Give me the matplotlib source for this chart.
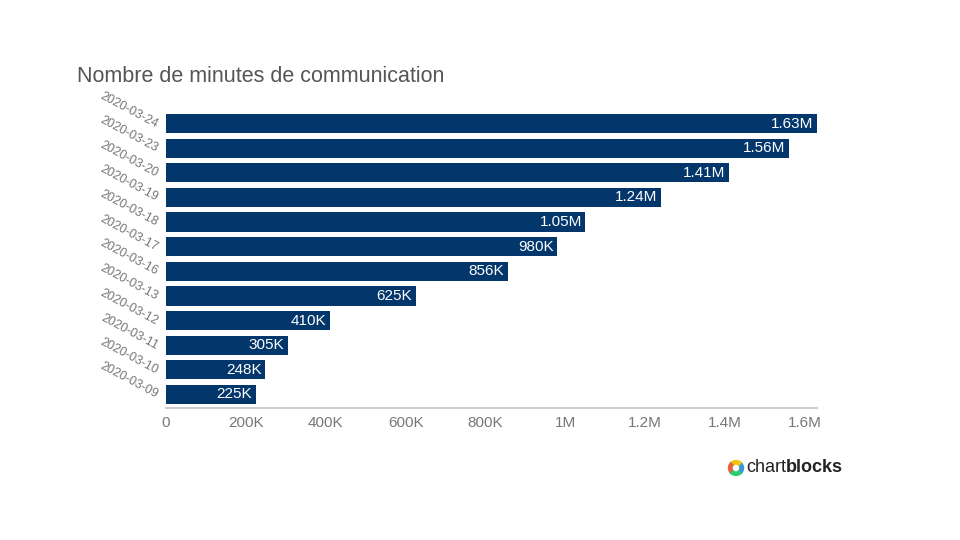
import matplotlib.pyplot as plt
from matplotlib.patches import Wedge

plt.rcParams['font.family'] = ['Liberation Sans', 'DejaVu Sans']

# Données
dates = ["2020-03-24", "2020-03-23", "2020-03-20", "2020-03-19", "2020-03-18", "2020-03-17",
         "2020-03-16", "2020-03-13", "2020-03-12", "2020-03-11", "2020-03-10", "2020-03-09"]
minutes = [1630000, 1560000, 1410000, 1240000, 1050000, 980000,
           856000, 625000, 410000, 305000, 248000, 225000]
etiquettes = ["1.63M", "1.56M", "1.41M", "1.24M", "1.05M", "980K",
              "856K", "625K", "410K", "305K", "248K", "225K"]
ticks = [0, 200000, 400000, 600000, 800000, 1000000, 1200000, 1400000, 1600000]
tick_labels = ["0", "200K", "400K", "600K", "800K", "1M", "1.2M", "1.4M", "1.6M"]

fig = plt.figure(figsize=(9.6, 5.4), dpi=100)
ax = fig.add_axes([166 / 960, 1 - 408 / 540, (817 - 166) / 960, (408 - 110) / 540])

pos = list(range(len(dates)))
ax.barh(pos, minutes, height=0.78, color="#03366b")
ax.set_ylim(len(dates) - 0.5 + 0.05, -0.5 - 0.05)
ax.set_xlim(0, 1630000)

# Étiquettes dans les barres
for p, v, t in zip(pos, minutes, etiquettes):
    ax.text(v - 9000, p, t, color="white", ha="right", va="center", fontsize=11)

ax.set_xticks(ticks)
ax.set_xticklabels(tick_labels, color="#777777", fontsize=11)
ax.set_yticks(pos)
ax.set_yticklabels(dates, rotation=-28, rotation_mode="anchor", ha="right", va="center_baseline",
                   color="#777777", fontsize=9)
ax.tick_params(axis="both", length=0)
ax.tick_params(axis="x", pad=6)
ax.tick_params(axis="y", pad=6)

for s in ["top", "right", "left"]:
    ax.spines[s].set_visible(False)
ax.spines["bottom"].set_color("#cccccc")
ax.spines["bottom"].set_linewidth(1.5)

fig.text(77 / 960, 1 - 76 / 540, "Nombre de minutes de communication",
         fontsize=15.5, color="#555555", ha="left", va="center")

# Logo chartblocks
cx, cy, r = 736, 468, 7.5
couleurs = ["#3498db", "#f1c40f", "#e8613d", "#2ecc71"]
for i, c in enumerate(couleurs):
    w = Wedge((cx / 100, (540 - cy) / 100), r / 100, 90 * i - 45, 90 * (i + 1) - 45,
              width=3.5 / 100, transform=fig.dpi_scale_trans, color=c)
    fig.patches.append(w)
t1 = fig.text(746 / 960, 1 - 468 / 540, "chart", fontsize=13, color="#222222",
              ha="left", va="center")
renderer = fig.canvas.get_renderer()
bb = t1.get_window_extent(renderer)
fig.text(bb.x1 / 960, 1 - 468 / 540, "blocks", fontsize=13, fontweight="bold",
         color="#222222", ha="left", va="center")

plt.savefig("out.png", dpi=100)
